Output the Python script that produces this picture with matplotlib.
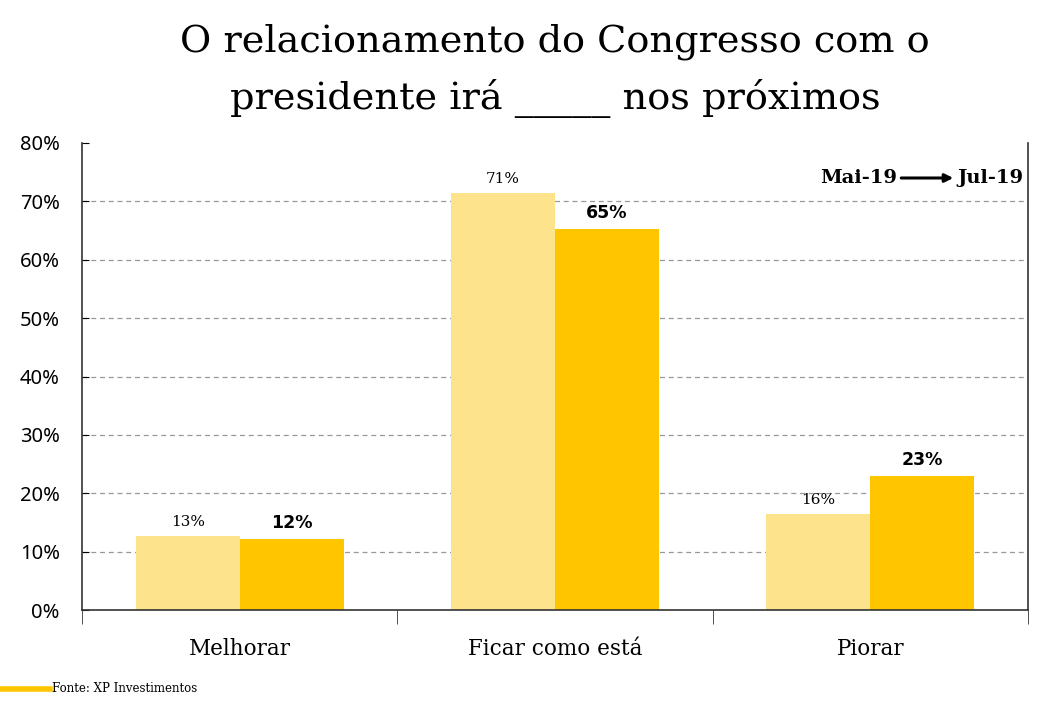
import numpy as np
import matplotlib.pyplot as plt

# Data
categories = ["Melhorar", "Ficar como está", "Piorar"]
mai19 = [12.6, 71.4, 16.4]
jul19 = [12.1, 65.3, 22.9]
series_names = ["Mai-19", "Jul-19"]

light = "#FDE38B"
dark = "#FFC600"

fig = plt.figure(figsize=(10.63, 7.07), dpi=100)
ax = fig.add_axes([82 / 1063, 1 - 610 / 707, (1028 - 82) / 1063, (610 - 143) / 707])

x = np.arange(len(categories))
w = 0.33
b1 = ax.bar(x - w / 2, mai19, w, color=light)
b2 = ax.bar(x + w / 2, jul19, w, color=dark)

for rect, v in zip(b1, mai19):
    ax.text(rect.get_x() + rect.get_width() / 2, v + 1.2, f"{round(v)}%",
            ha="center", va="bottom", fontsize=11, family="DejaVu Serif")
for rect, v in zip(b2, jul19):
    ax.text(rect.get_x() + rect.get_width() / 2, v + 1.2, f"{round(v)}%",
            ha="center", va="bottom", fontsize=12.5, fontweight="bold", family="DejaVu Sans")

ax.set_xlim(-0.5, 2.5)
ax.set_ylim(0, 80)
ax.set_yticks(range(0, 81, 10))
ax.set_yticklabels([f"{t}%" for t in range(0, 81, 10)], family="Noto Sans", fontsize=14.5)
# dashed grid only between 10% and 70%
ax.hlines(range(10, 80, 10), -0.5, 2.5, colors="#999999", linestyles=(0, (4, 3)),
          linewidth=0.9, zorder=0)
ax.tick_params(axis="y", direction="in", length=5, pad=16)

ax.set_xticks(x)
ax.set_xticklabels(categories, family="DejaVu Serif", fontsize=15.5)
ax.tick_params(axis="x", length=0, pad=20)
ax.set_xticks([-0.5, 0.5, 1.5, 2.5], minor=True)
ax.tick_params(axis="x", which="minor", length=10, direction="out", color="#333333")

ax.spines["top"].set_visible(False)
for s in ["left", "right", "bottom"]:
    ax.spines[s].set_color("#333333")
    ax.spines[s].set_linewidth(1.2)

# Legend-ish annotation
ly = (610 - 178) / 467
ax.text(0.8615, ly, series_names[0], transform=ax.transAxes, ha="right", va="center",
        fontsize=14, fontweight="bold", family="DejaVu Serif")
ax.text(0.925, ly, series_names[1], transform=ax.transAxes, ha="left", va="center",
        fontsize=14, fontweight="bold", family="DejaVu Serif")
ax.annotate("", xy=(0.921, ly), xytext=(0.866, ly), xycoords="axes fraction",
            arrowprops=dict(arrowstyle="-|>", color="black", lw=2.2, mutation_scale=12,
                            shrinkA=0, shrinkB=0))

fig.text(555 / 1063, 1 - 42 / 707, "O relacionamento do Congresso com o",
         ha="center", va="center", fontsize=27.5, family="DejaVu Serif")
fig.text(555 / 1063, 1 - 98 / 707, "presidente irá _____ nos próximos",
         ha="center", va="center", fontsize=27.5, family="DejaVu Serif")

# Source line
fig.add_artist(plt.Line2D([2 / 1063, 50 / 1063], [1 - 689 / 707] * 2, color=dark, lw=4))
fig.text(52 / 1063, 1 - 689 / 707, "Fonte: XP Investimentos", ha="left", va="center",
         fontsize=8.5, family="DejaVu Serif")

fig.savefig("out.png", dpi=100)
